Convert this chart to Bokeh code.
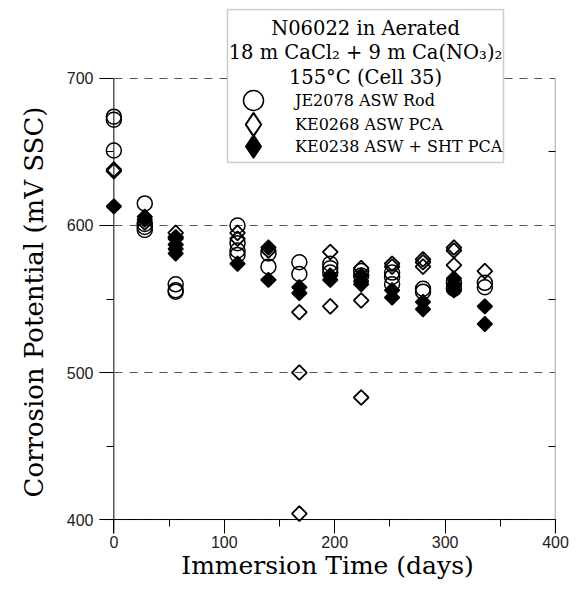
from bokeh.plotting import figure
from bokeh.models import (Range1d, LinearAxis, SingleIntervalTicker, FixedTicker, Span, Label,
                          BoxAnnotation, Legend, LegendItem, Title, ColumnDataSource)
from bokeh.embed import file_html
from bokeh.resources import INLINE
import math

# ---- data ----
rod_days = [0, 0, 0, 28, 28, 28, 28, 56, 56, 56, 112, 112, 112, 112, 140, 140,
            168, 168, 196, 196, 196, 224, 224, 252, 252, 252, 280, 280, 308, 308, 336, 336]
rod_mv = [674, 672, 651, 615, 601, 599, 597, 560, 556, 555, 600, 588, 583, 580, 581, 572,
          575, 567, 574, 571, 568, 569, 566, 568, 565, 560, 557, 555, 561, 557, 561, 558]

pca_days = [0, 0, 28, 56, 56, 112, 112, 140, 168, 168, 168, 196, 196, 224, 224, 224,
            252, 252, 280, 280, 280, 308, 308, 308, 336]
pca_mv = [638, 637, 602, 595, 592, 595, 591, 583, 541, 500, 404, 582, 545, 571, 549, 483,
          574, 572, 577, 575, 572, 585, 583, 573, 569]

sht_days = [0, 28, 28, 56, 56, 56, 56, 112, 140, 140, 168, 168, 196, 196, 224, 224, 224,
            252, 252, 280, 280, 308, 308, 308, 336, 336]
sht_mv = [613, 606, 604, 591, 587, 584, 581, 574, 585, 563, 558, 554, 566, 563, 566, 562, 560,
          556, 551, 548, 543, 564, 560, 556, 545, 533]

series_names = ["JE2078 ASW Rod", "KE0268 ASW PCA", "KE0238 ASW + SHT PCA"]
title_lines = ["N06022 in Aerated", "18 m CaCl\u2082 + 9 m Ca(NO\u2083)\u2082", "155\u00b0C (Cell 35)"]
x_label = "Immersion Time (days)"
y_label = "Corrosion Potential (mV SSC)"

X_MIN, X_MAX = 0, 400
Y_MIN, Y_MAX = 400, 700
tick_step = 100
right_minor_ticks = [450, 550, 650]

SERIF = "DejaVu Serif"
SANS = "Liberation Sans"

p = figure(frame_width=456, frame_height=525,
           x_range=Range1d(-13, X_MAX), y_range=Range1d(390.5, 747.6),
           output_backend="svg", toolbar_location=None,
           min_border_left=99, min_border_top=8, min_border_right=14, min_border_bottom=40,
           outline_line_color=None, background_fill_color="white")

xt = SingleIntervalTicker(interval=tick_step, num_minor_ticks=2)
yt = SingleIntervalTicker(interval=tick_step, num_minor_ticks=2)

for ax, tk in ((p.xaxis[0], xt), (p.yaxis[0], yt)):
    ax.ticker = tk
    ax.axis_line_color = None
    ax.major_tick_in = 14
    ax.major_tick_out = 0
    ax.minor_tick_in = 14
    ax.minor_tick_out = -7
    ax.major_tick_line_color = "black"
    ax.minor_tick_line_color = "black"
    ax.major_label_text_font = SANS
    ax.major_label_text_font_size = "16px"
    ax.major_label_text_color = "#222222"

p.xaxis.axis_label = x_label
p.xaxis.axis_label_text_font = SERIF
p.xaxis.axis_label_text_font_size = "25px"
p.xaxis.axis_label_text_font_style = "normal"
p.xaxis.axis_label_text_color = "black"
p.xaxis.major_label_standoff = 2
p.xaxis.axis_label_standoff = 0
p.yaxis.major_label_standoff = 6

p.add_layout(Title(text=y_label, align="left", offset=36, standoff=30,
                   text_font=SERIF, text_font_size="26px", text_font_style="normal",
                   text_color="black"), "left")

right = LinearAxis(ticker=FixedTicker(ticks=[], minor_ticks=right_minor_ticks),
                   axis_line_color=None,
                   major_tick_in=7, major_tick_out=0, minor_tick_in=7, minor_tick_out=0,
                   minor_tick_line_color="black")
p.add_layout(right, "right")

p.xgrid.visible = False
p.ygrid.ticker = yt
p.ygrid.grid_line_color = "#555555"
p.ygrid.grid_line_dash = "8 7"
p.ygrid.grid_line_width = 1

# axis lines (left and bottom) and right border
p.segment(x0=[X_MIN], y0=[390.5], x1=[X_MIN], y1=[Y_MAX], line_color="black", line_width=1)
p.segment(x0=[X_MAX], y0=[390.5], x1=[X_MAX], y1=[Y_MAX], line_color="#888888", line_width=1.5)
p.add_layout(Span(location=Y_MIN, dimension="width", line_color="black", line_width=1))

r_rod = p.scatter(rod_days, rod_mv, marker="circle", size=15, fill_color=None,
                  line_color="black", line_width=1.5)
r_pca = p.scatter(pca_days, pca_mv, marker="square", size=10.5, angle=math.pi / 4,
                  fill_color=None, line_color="black", line_width=1.8)
r_sht = p.scatter(sht_days, sht_mv, marker="square", size=10.5, angle=math.pi / 4,
                  fill_color="black", line_color="black", line_width=1.5)

# legend-only glyphs for the diamond keys (no visible point in the plot)
key_src = ColumnDataSource(data=dict(x=[float("nan")], y=[float("nan")]))
k_pca = p.scatter("x", "y", source=key_src, marker="diamond", fill_color=None,
                  line_color="black", line_width=2)
k_sht = p.scatter("x", "y", source=key_src, marker="diamond", fill_color="black",
                  line_color="black", line_width=1.5)

# legend box
p.add_layout(BoxAnnotation(left=128, right=404, top=524, bottom=371,
                           left_units="screen", right_units="screen",
                           top_units="screen", bottom_units="screen",
                           fill_color="white", fill_alpha=1.0,
                           line_color="#555555", line_width=1.5))
for txt, yy in zip(title_lines, (505, 481, 456)):
    p.add_layout(Label(x=266, y=yy, x_units="screen", y_units="screen", text=txt,
                       text_align="center", text_baseline="middle",
                       text_font=SERIF, text_font_size="19.5px", text_color="black"))


def add_legend(renderer, name, glyph, loc, standoff):
    lg = Legend(items=[LegendItem(label=name, renderers=[renderer], index=0)],
                location=loc, glyph_width=glyph, glyph_height=glyph, label_height=glyph,
                label_standoff=standoff, padding=0, margin=0, spacing=0,
                border_line_color=None, background_fill_alpha=0,
                label_text_font=SERIF, label_text_font_size="16px",
                label_text_color="black")
    p.add_layout(lg, "center")


add_legend(r_rod, series_names[0], 50, (129, 408), 17)
add_legend(k_pca, series_names[1], 58, (125, 380), 13)
add_legend(k_sht, series_names[2], 58, (125, 358), 13)

open("out.html", "w").write(file_html(p, INLINE))
